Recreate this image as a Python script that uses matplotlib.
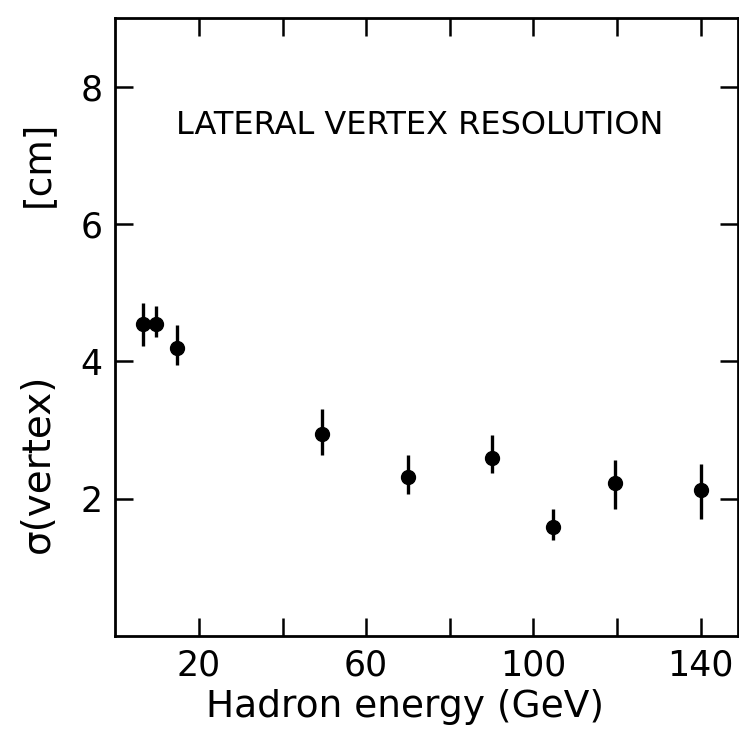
import numpy as np
from matplotlib import pyplot as plt

# lateral vertex resolution vs hadron energy
energy = [6.7, 9.7, 14.7, 49.4, 70.1, 90.2, 104.7, 119.4, 140.0]
sigma = [4.54, 4.54, 4.19, 2.94, 2.31, 2.59, 1.59, 2.22, 2.13]
err_up = [0.31, 0.26, 0.34, 0.37, 0.33, 0.33, 0.26, 0.34, 0.37]
err_lo = [0.31, 0.19, 0.25, 0.30, 0.25, 0.22, 0.20, 0.37, 0.43]

xticks = [20, 40, 60, 80, 100, 120, 140]
xticklabels = ['20', '', '60', '', '100', '', '140']
yticks = [2, 4, 6, 8]

fig = plt.figure(figsize=(7.39, 7.30), dpi=100)
ax = fig.add_axes([0.156, 0.129, 0.843, 0.846])

ax.errorbar(energy, sigma, yerr=[err_lo, err_up], fmt='o', color='black',
            markersize=10, elinewidth=2.4, capsize=0)

ax.set_xlim(0, 149)
ax.set_ylim(0, 9)
ax.set_xticks(xticks)
ax.set_xticklabels(xticklabels)
ax.set_yticks(yticks)
ax.tick_params(direction='in', length=13, width=1.8, labelsize=25,
               top=True, right=True, pad=9)
for s in ax.spines.values():
    s.set_linewidth(2)

ax.text(72.7, 7.43, 'LATERAL VERTEX RESOLUTION', fontsize=23,
        ha='center', va='center')

ax.text(0.465, -0.115, 'Hadron energy (GeV)', transform=ax.transAxes,
        fontsize=27, ha='center', va='center')
ax.text(-0.125, 0.28, 'σ(vertex)', transform=ax.transAxes, fontsize=28,
        rotation=90, ha='center', va='center')
ax.text(-0.125, 0.765, '[cm]', transform=ax.transAxes, fontsize=27,
        rotation=90, ha='center', va='center')

plt.savefig('out.png', dpi=100)
